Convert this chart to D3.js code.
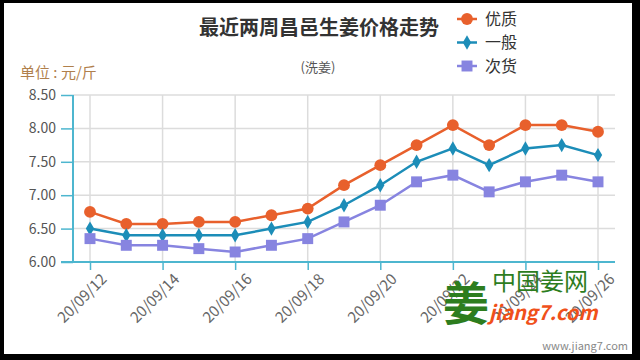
<!DOCTYPE html>
<html lang="zh">
<head>
<meta charset="UTF-8">
<title>最近两周昌邑生姜价格走势</title>
<script src="https://d3js.org/d3.v7.min.js"></script>
<style>
  body { margin: 0; background: #000; }
  svg { display: block; }
  text { font-family: "Noto Sans CJK SC", "Open Sans", sans-serif; }
</style>
</head>
<body>
<svg></svg>
<script>
const width = 640, height = 360;

const dates = ["20/09/12","20/09/13","20/09/14","20/09/15","20/09/16","20/09/17","20/09/18",
  "20/09/19","20/09/20","20/09/21","20/09/22","20/09/23","20/09/24","20/09/25","20/09/26"];
const youzhi = [6.75, 6.57, 6.57, 6.60, 6.60, 6.70, 6.80, 7.15, 7.45, 7.75, 8.05, 7.75, 8.05, 8.05, 7.95];
const yiban  = [6.50, 6.40, 6.40, 6.40, 6.40, 6.50, 6.60, 6.85, 7.15, 7.50, 7.70, 7.45, 7.70, 7.75, 7.60];
const cihuo  = [6.35, 6.25, 6.25, 6.20, 6.15, 6.25, 6.35, 6.60, 6.85, 7.20, 7.30, 7.05, 7.20, 7.30, 7.20];
const yTicks = [6.00, 6.50, 7.00, 7.50, 8.00, 8.50];

const series = [
  { name: "优质", values: youzhi, color: "#e8602c", shape: d3.symbolCircle, size: 110 },
  { name: "一般", values: yiban,  color: "#1c8db8", shape: d3.symbolDiamond, size: 60 },
  { name: "次货", values: cihuo,  color: "#8784e0", shape: d3.symbolSquare, size: 120 }
];

const svg = d3.select("svg").attr("width", width).attr("height", height);

// frame
svg.append("rect").attr("width", width).attr("height", height).attr("fill", "#000");
svg.append("rect").attr("x", 4).attr("y", 3).attr("width", 628).attr("height", 351).attr("fill", "#fff");

const x = d3.scaleLinear().domain([0, dates.length - 1]).range([90, 598]);
const y = d3.scaleLinear().domain([6, 8.5]).range([262, 95]);
const axisColor = "#4db6cf";

// grid
const xTickIdx = dates.map((d, i) => i).filter(i => i % 2 === 0);
svg.append("g").selectAll("line").data(yTicks.slice(1)).join("line")
  .attr("x1", 73).attr("x2", 615)
  .attr("y1", d => y(d)).attr("y2", d => y(d))
  .attr("stroke", "#dcdcdc").attr("stroke-width", 1.5);
svg.append("g").selectAll("line").data(xTickIdx).join("line")
  .attr("x1", d => x(d)).attr("x2", d => x(d))
  .attr("y1", 95).attr("y2", 262)
  .attr("stroke", "#dcdcdc").attr("stroke-width", 1.5);

// y axis
const yAxis = svg.append("g").attr("transform", "translate(73,0)")
  .call(d3.axisLeft(y).tickValues(yTicks).tickFormat(d3.format(".2f")).tickSize(12).tickPadding(5));
yAxis.select(".domain").remove();
yAxis.selectAll("line").attr("stroke", axisColor).attr("stroke-width", 1.5);
yAxis.selectAll("text").attr("fill", "#555").attr("font-size", 14).attr("font-family", "'Open Sans', sans-serif");
svg.append("line").attr("x1", 73).attr("x2", 73).attr("y1", 95).attr("y2", 262)
  .attr("stroke", axisColor).attr("stroke-width", 2);

// x axis
const xAxis = svg.append("g").attr("transform", "translate(0,262)")
  .call(d3.axisBottom(x).tickValues(xTickIdx).tickFormat(i => dates[i]).tickSize(8).tickPadding(4));
xAxis.select(".domain").remove();
xAxis.selectAll("line").attr("stroke", axisColor).attr("stroke-width", 1.5);
xAxis.selectAll("text").attr("fill", "#666").attr("font-size", 15)
  .attr("font-family", "'Open Sans', sans-serif")
  .attr("text-anchor", "end")
  .attr("transform", "translate(5,6) rotate(-45)")
  .attr("dy", "0.35em");
svg.append("line").attr("x1", 61).attr("x2", 615).attr("y1", 262).attr("y2", 262)
  .attr("stroke", axisColor).attr("stroke-width", 2);

// lines and markers
const line = d3.line().x((d, i) => x(i)).y(d => y(d));
series.forEach(s => {
  svg.append("path").datum(s.values).attr("d", line)
    .attr("fill", "none").attr("stroke", s.color).attr("stroke-width", 2.5);
  svg.append("g").selectAll("path").data(s.values).join("path")
    .attr("d", d3.symbol().type(s.shape).size(s.size))
    .attr("transform", (d, i) => `translate(${x(i)},${y(d)})`)
    .attr("fill", s.color);
});

// titles
svg.append("text").attr("x", 319).attr("y", 35).attr("text-anchor", "middle")
  .attr("font-size", 20).attr("font-weight", "bold").attr("fill", "#333")
  .text("最近两周昌邑生姜价格走势");
svg.append("text").attr("x", 318).attr("y", 72).attr("text-anchor", "middle")
  .attr("font-size", 13).attr("fill", "#555").text("(洗姜)");
svg.append("text").attr("x", 20).attr("y", 78)
  .attr("font-size", 15).attr("fill", "#b0804c").text("单位 : 元/斤");

// legend
const legend = svg.append("g").selectAll("g").data(series).join("g")
  .attr("transform", (d, i) => `translate(457,${19 + i * 23.5})`);
legend.append("line").attr("x1", 0).attr("x2", 20).attr("stroke", d => d.color).attr("stroke-width", 2.5);
legend.append("path").attr("transform", "translate(10,0)")
  .attr("d", d => d3.symbol().type(d.shape).size(d.size)()).attr("fill", d => d.color);
legend.append("text").attr("x", 28).attr("y", 0).attr("dy", "0.35em")
  .attr("font-size", 16).attr("fill", "#333").text(d => d.name);

// watermark
svg.append("text").attr("x", 443).attr("y", 320).attr("font-size", 46).attr("font-weight", "bold")
  .attr("fill", "#2d7d1e").text("姜");
svg.append("text").attr("x", 492).attr("y", 290).attr("font-size", 24).attr("fill", "#2d7d1e")
  .text("中国姜网");
svg.append("text").attr("x", 489).attr("y", 320).attr("font-size", 20).attr("font-weight", "bold")
  .attr("font-style", "italic").attr("font-family", "'Liberation Sans', sans-serif")
  .attr("fill", "#f0501a").text("jiang7.com");
svg.append("text").attr("x", 628).attr("y", 350).attr("text-anchor", "end")
  .attr("font-size", 11).attr("fill", "#888").attr("font-family", "'Open Sans', sans-serif")
  .text("www.jiang7.com");
</script>
</body>
</html>
